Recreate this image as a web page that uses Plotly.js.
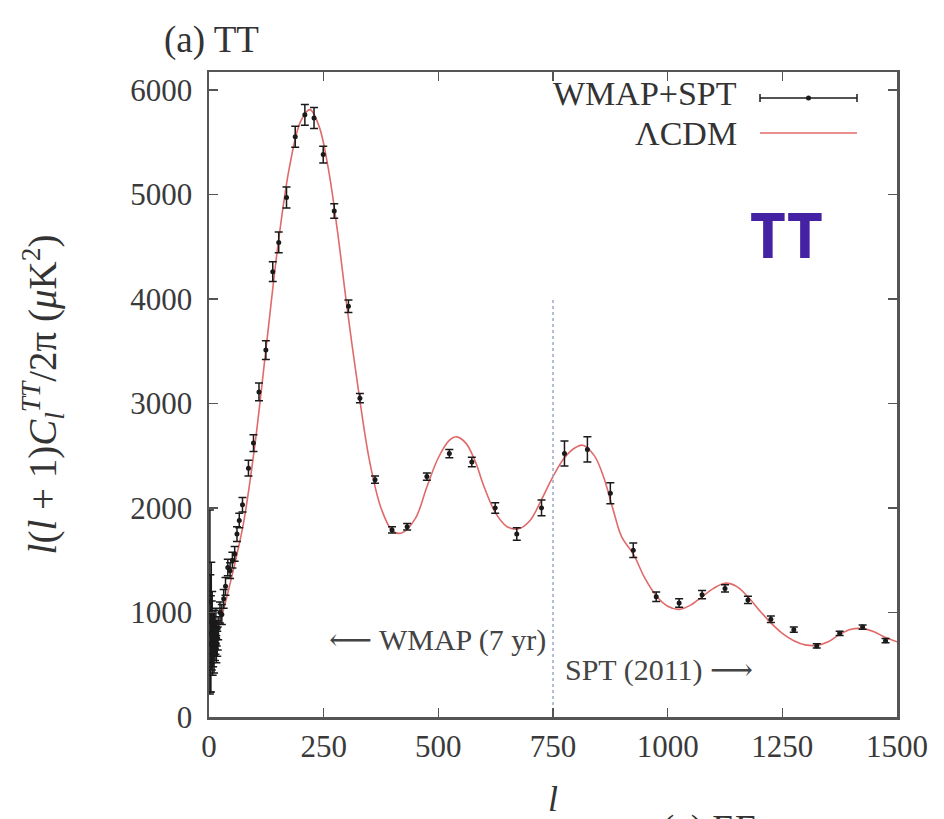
<!DOCTYPE html>
<html>
<head>
<meta charset="utf-8">
<script src="https://cdn.plot.ly/plotly-3.0.1.min.js"></script>
<style>html,body{margin:0;padding:0;background:#fff;}#chart{width:944px;height:819px;}</style>
</head>
<body>
<div id="chart"></div>
<script>
// ---- Data ----
// WMAP (7 yr) band powers: multipole l, D_l (muK^2), 1-sigma error
const wmapL   = [2, 3, 4, 5, 6, 7, 8, 9, 10, 11, 12, 13, 14, 15, 16, 17, 18, 19, 20,
                 24, 28, 32, 36, 41, 46, 51, 56, 61, 66, 73, 86, 97, 109, 124, 139, 152, 169,
                 188, 209, 229, 249, 273, 304, 329, 362, 399, 432, 475, 524, 573, 624, 671, 725];
const wmapDl  = [1100, 800, 700, 1000, 780, 900, 650, 700, 800, 600, 850, 700, 750, 900, 650, 800, 700, 750, 850,
                 1000, 980, 1130, 1250, 1430, 1400, 1500, 1560, 1750, 1880, 2030, 2380, 2620, 3110, 3510, 4260, 4540, 4970,
                 5550, 5760, 5730, 5380, 4840, 3930, 3050, 2270, 1790, 1820, 2300, 2520, 2440, 2000, 1750, 2000];
const wmapErr = [880, 560, 460, 480, 330, 300, 250, 220, 200, 180, 170, 160, 150, 140, 130, 120, 120, 110, 110,
                 100, 95, 90, 85, 80, 75, 75, 70, 70, 70, 70, 75, 80, 85, 90, 95, 100, 100,
                 100, 100, 100, 80, 70, 60, 45, 35, 30, 30, 35, 40, 45, 50, 60, 75];
// SPT (2011) band powers
const sptL   = [775, 825, 875, 925, 975, 1025, 1075, 1125, 1175, 1225, 1275, 1325, 1375, 1425, 1475];
const sptDl  = [2520, 2560, 2140, 1595, 1150, 1090, 1170, 1230, 1120, 935, 835, 680, 800, 860, 730];
const sptErr = [120, 120, 100, 70, 45, 40, 40, 35, 35, 30, 25, 20, 20, 20, 20];
// Best-fit LambdaCDM model curve
const modelL  = [2, 10, 20, 30, 50, 75, 100, 125, 150, 175, 200, 220, 240, 260, 280, 300, 325, 350, 375,
                 400, 420, 450, 475, 500, 525, 540, 560, 580, 600, 625, 650, 675, 700, 725, 750, 775, 800,
                 815, 840, 860, 880, 900, 925, 950, 975, 1000, 1025, 1050, 1075, 1100, 1125, 1150, 1175,
                 1200, 1225, 1250, 1275, 1300, 1325, 1350, 1375, 1400, 1425, 1450, 1475, 1500];
const modelDl = [1000, 800, 850, 1000, 1350, 1850, 2600, 3550, 4500, 5250, 5700, 5810, 5650, 5250, 4650, 3950, 3150, 2450, 2000,
                 1780, 1760, 1900, 2200, 2480, 2650, 2680, 2620, 2450, 2200, 1950, 1820, 1800, 1880, 2080, 2300, 2480, 2580,
                 2600, 2500, 2300, 2000, 1720, 1560, 1330, 1160, 1060, 1030, 1070, 1150, 1230, 1280, 1250, 1150,
                 1020, 900, 800, 730, 690, 685, 720, 790, 840, 845, 815, 760, 720];
// Axis ticks
const xTicks = [0, 250, 500, 750, 1000, 1250, 1500];
const yTicks = [0, 1000, 2000, 3000, 4000, 5000, 6000];
const splitL = 750;   // boundary between WMAP and SPT data
const splitTop = 4000;

const serif = '"Liberation Serif", "DejaVu Serif", serif';

const traces = [
  {x: modelL, y: modelDl, type: 'scatter', mode: 'lines', name: 'ΛCDM',
   line: {color: '#e06a6a', width: 1.6, shape: 'spline', smoothing: 1.0}, hoverinfo: 'skip'},
  {x: wmapL, y: wmapDl, type: 'scatter', mode: 'markers', name: 'WMAP+SPT',
   marker: {color: '#1a1a1a', size: 5},
   error_y: {type: 'data', array: wmapErr, visible: true, color: '#1a1a1a', thickness: 1.5, width: 4}},
  {x: sptL, y: sptDl, type: 'scatter', mode: 'markers', name: 'SPT', showlegend: false,
   marker: {color: '#1a1a1a', size: 5},
   error_y: {type: 'data', array: sptErr, visible: true, color: '#1a1a1a', thickness: 1.5, width: 4}},
  {x: [splitL, splitL], y: [0, splitTop], type: 'scatter', mode: 'lines', showlegend: false,
   line: {color: '#9aa8cc', width: 1.5, dash: 'dot'}, hoverinfo: 'skip'}
];

const axisCommon = {
  showline: true, mirror: 'ticks', linecolor: '#555', linewidth: 2.5,
  ticks: 'inside', ticklen: 9, tickwidth: 1.5, tickcolor: '#555',
  showgrid: false, zeroline: false,
  tickfont: {family: serif, size: 31, color: '#3a3a3a'}
};

const W = 688, H = 645; // plot area in px, used to place the hand-drawn key
const px = v => (v - 209) / W;
const py = v => (717 - v) / H;

const layout = {
  width: 944, height: 819,
  margin: {l: 209, r: 47, t: 72, b: 102},
  paper_bgcolor: '#fff', plot_bgcolor: '#fff',
  showlegend: false,
  xaxis: Object.assign({}, axisCommon, {
    range: [0, 1500], tickvals: xTicks, ticktext: xTicks.map(String),
    title: {text: '<i>l</i>', font: {family: serif, size: 36, color: '#333'}, standoff: 26}
  }),
  yaxis: Object.assign({}, axisCommon, {
    range: [0, 6170], tickvals: yTicks, ticktext: yTicks.map(String),
    ticklabelstandoff: 8,
    title: {text: '<i>l</i>(<i>l</i> + 1)<i>C</i><sub><i>l</i></sub><sup><i>TT</i></sup>/2π (<i>μ</i>K<sup>2</sup>)',
            font: {family: serif, size: 39, color: '#333'}, standoff: 62}
  }),
  annotations: [
    {text: '(a) TT', xref: 'paper', yref: 'paper', x: px(162), y: py(40), xanchor: 'left', yanchor: 'middle',
     showarrow: false, font: {family: serif, size: 37, color: '#333'}},
    {text: 'WMAP+SPT', xref: 'paper', yref: 'paper', x: px(739), y: py(94), xanchor: 'right', yanchor: 'middle',
     showarrow: false, font: {family: serif, size: 34, color: '#333'}},
    {text: 'ΛCDM', xref: 'paper', yref: 'paper', x: px(739), y: py(133), xanchor: 'right', yanchor: 'middle',
     showarrow: false, font: {family: serif, size: 34, color: '#333'}},
    {text: '⟵ WMAP (7 yr)', xref: 'x', yref: 'y', x: 740, y: 737, xanchor: 'right', yanchor: 'middle',
     showarrow: false, font: {family: serif, size: 30, color: '#444'}},
    {text: 'SPT (2011) ⟶', xref: 'x', yref: 'y', x: 772, y: 450, xanchor: 'left', yanchor: 'middle',
     showarrow: false, font: {family: serif, size: 30, color: '#444'}},
    {text: '<b>TT</b>', xref: 'paper', yref: 'paper', x: px(786), y: py(234), xanchor: 'center', yanchor: 'middle',
     showarrow: false, font: {family: '"Noto Sans", "DejaVu Sans", sans-serif', size: 62, color: '#4522a3'}},
    {text: '(c) EE', xref: 'paper', yref: 'paper', x: px(660), y: py(806), xanchor: 'left', yanchor: 'top',
     showarrow: false, font: {family: serif, size: 37, color: '#333'}}
  ],
  shapes: [
    // hand-drawn key samples (gnuplot style: sample to the right of the label)
    {type: 'line', xref: 'paper', yref: 'paper', x0: px(760), x1: px(857), y0: py(98), y1: py(98),
     line: {color: '#1a1a1a', width: 1.5}},
    {type: 'line', xref: 'paper', yref: 'paper', x0: px(760), x1: px(760), y0: py(94), y1: py(102),
     line: {color: '#1a1a1a', width: 1.5}},
    {type: 'line', xref: 'paper', yref: 'paper', x0: px(857), x1: px(857), y0: py(94), y1: py(102),
     line: {color: '#1a1a1a', width: 1.5}},
    {type: 'circle', xref: 'paper', yref: 'paper', x0: px(806), x1: px(811), y0: py(100.5), y1: py(95.5),
     fillcolor: '#1a1a1a', line: {color: '#1a1a1a', width: 0}},
    {type: 'line', xref: 'paper', yref: 'paper', x0: px(760), x1: px(857), y0: py(133), y1: py(133),
     line: {color: '#e06a6a', width: 1.6}}
  ]
};

Plotly.newPlot('chart', traces, layout, {staticPlot: true, displayModeBar: false});
</script>
</body>
</html>
